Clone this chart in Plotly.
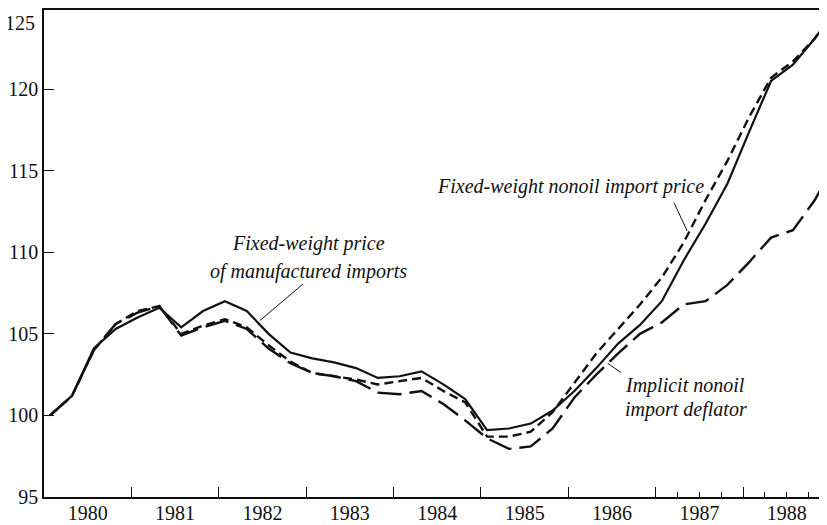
import plotly.graph_objects as go

# ---- data (quarterly, 1980Q1 .. 1989Q1; last point runs off the right edge) ----
years = [1980, 1981, 1982, 1983, 1984, 1985, 1986, 1987, 1988, 1989]
quarters = [f"{y}Q{q}" for y in years for q in (1, 2, 3, 4)][:37]

manufactured = [100.0, 101.2, 104.1, 105.3, 106.0, 106.6, 105.4, 106.4, 107.0, 106.4,
                105.0, 103.85, 103.5, 103.25, 102.9, 102.3, 102.4, 102.7, 101.9, 101.0,
                99.1, 99.2, 99.5, 100.3, 101.5, 102.9, 104.4, 105.55, 107.0, 109.5,
                111.75, 114.2, 117.4, 120.5, 121.5, 123.1, 125.0]

nonoil_fixed = [100.0, 101.2, 104.0, 105.6, 106.4, 106.7, 105.0, 105.5, 105.9, 105.4,
                104.3, 103.3, 102.6, 102.4, 102.2, 101.9, 102.1, 102.3, 101.5, 100.8,
                98.7, 98.7, 99.0, 100.2, 102.0, 103.8, 105.3, 106.8, 108.45, 110.6,
                113.2, 115.6, 118.3, 120.7, 121.7, 123.1, 125.0]

implicit_deflator = [100.0, 101.2, 104.0, 105.6, 106.3, 106.7, 104.9, 105.4, 105.8, 105.3,
                     104.1, 103.2, 102.6, 102.4, 102.1, 101.4, 101.3, 101.5, 100.7, 99.7,
                     98.6, 97.95, 98.1, 99.2, 101.1, 102.5, 103.8, 105.0, 105.7, 106.8,
                     107.0, 108.0, 109.4, 110.9, 111.35, 113.2, 115.6]

year_labels = ["1980", "1981", "1982", "1983", "1984", "1985", "1986", "1987", "1988"]
quarter_tick_years = [1987, 1988]   # short quarter ticks shown only in these years
y_ticks = [95, 100, 105, 110, 115, 120]

# quarter label -> position on a decimal-year axis
def qpos(label):
    y, q = label.split("Q")
    return int(y) + (int(q) - 1) / 4 + 0.07

xs = [qpos(q) for q in quarters]
XRANGE = [1980, 1988.96]

FONT = "Liberation Serif, Times New Roman, serif"
INK = "#111111"

fig = go.Figure()
fig.add_trace(go.Scatter(x=xs, y=manufactured, mode="lines",
                         line=dict(color=INK, width=2.2, dash="solid"),
                         name="Fixed-weight price of manufactured imports"))
fig.add_trace(go.Scatter(x=xs, y=nonoil_fixed, mode="lines",
                         line=dict(color=INK, width=2.4, dash="9px,5px"),
                         name="Fixed-weight nonoil import price"))
fig.add_trace(go.Scatter(x=xs, y=implicit_deflator, mode="lines", xaxis="x2",
                         line=dict(color=INK, width=2.4, dash="24px,8px"),
                         name="Implicit nonoil import deflator"))

label_font = dict(family=FONT, size=20, color=INK)

def text(x, y, s, xanchor="center"):
    fig.add_annotation(x=x, y=y, text=f"<i>{s}</i>", showarrow=False,
                       xanchor=xanchor, yanchor="middle", font=label_font)

def leader(x0, y0, x1, y1):
    fig.add_annotation(x=x1, y=y1, ax=x0, ay=y0, axref="x", ayref="y",
                       text="", showarrow=True, arrowhead=0, arrowwidth=1,
                       arrowcolor=INK, standoff=0, startstandoff=0)

text(1983.03, 110.52, "Fixed-weight price")
text(1983.03, 108.81, "of manufactured imports")
leader(1982.98, 108.13, 1982.47, 105.81)

text(1986.03, 114.06, "Fixed-weight nonoil import price")
leader(1987.20, 113.14, 1987.36, 111.31)

text(1986.62, 101.84, "Implicit nonoil", xanchor="left")
text(1986.62, 100.38, "import deflator", xanchor="left")
leader(1986.62, 102.57, 1986.45, 103.19)

# top y label (kept inside the page)
fig.add_annotation(x=0, xref="paper", y=1, yref="paper", text="125", showarrow=False,
                   xanchor="right", yanchor="top", xshift=-7, yshift=0,
                   font=dict(family=FONT, size=20, color=INK))

fig.update_layout(
    width=827, height=525,
    margin=dict(l=34, r=8, t=0, b=36),
    paper_bgcolor="white", plot_bgcolor="white",
    showlegend=False,
    font=dict(family=FONT, size=20, color=INK),
    xaxis2=dict(
        overlaying="x", anchor="y", side="bottom", range=XRANGE,
        tickvals=[y + q / 4 for y in quarter_tick_years for q in (1, 2, 3)],
        ticks="inside", ticklen=5, tickwidth=1.2, tickcolor=INK,
        showticklabels=False, showline=False, showgrid=False, zeroline=False,
    ),
)
fig.layout.xaxis.update(
    range=XRANGE,
    tickvals=[int(y) + 0.5 for y in year_labels], ticktext=year_labels,
    ticks="", showgrid=False, zeroline=False,
    showline=True, linecolor=INK, linewidth=1.6, mirror=True,
    tickfont=dict(family=FONT, size=20, color=INK),
    ticklabelstandoff=-3,
    minor=dict(tickvals=[int(y) for y in year_labels[1:]], ticks="inside",
               ticklen=10, tickwidth=1.4, tickcolor=INK, showgrid=False),
)
fig.update_yaxes(
    range=[95, 124.85], tickvals=y_ticks, ticks="inside", ticklen=10, tickwidth=1.4,
    tickcolor=INK, showgrid=False, zeroline=False,
    showline=True, linecolor=INK, linewidth=1.6,
    tickfont=dict(family=FONT, size=20, color=INK),
)

fig.write_html("out.html")
